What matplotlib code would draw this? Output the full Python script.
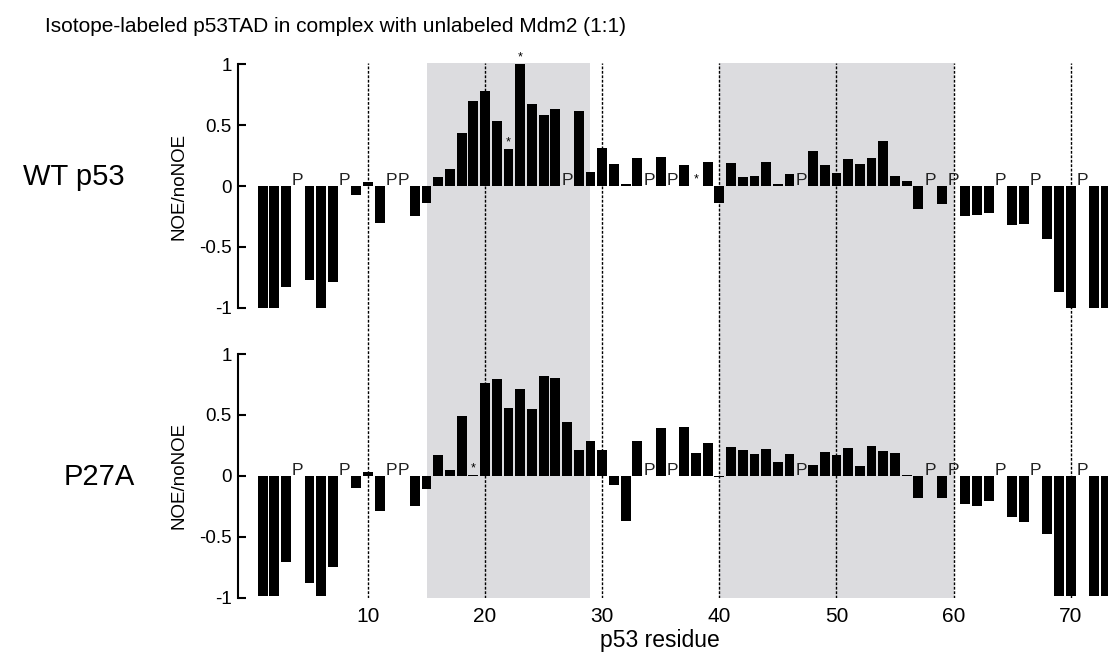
import numpy as np
import matplotlib
matplotlib.use("Agg")
import matplotlib.pyplot as plt

plt.rcParams['font.family'] = ['Liberation Sans', 'DejaVu Sans']

residues = list(range(1, 74))

# NOE/noNOE ratios, None = proline (no amide) or missing
wt_noe = [-1.0, -1.0, -0.83, None, -0.77, -1.0, -0.785, None, -0.07, 0.033,
          -0.30, None, None, -0.25, -0.137, 0.074, 0.142, 0.435, 0.70, 0.78,
          0.53, 0.30, 1.0, 0.673, 0.58, 0.632, None, 0.616, 0.115, 0.31,
          0.18, 0.016, 0.23, None, 0.238, None, 0.172, None, 0.197, -0.137,
          0.19, 0.07, 0.082, 0.197, 0.016, 0.098, None, 0.287, 0.172, 0.107,
          0.22, 0.18, 0.23, 0.37, 0.082, 0.041, -0.186, None, -0.148, None,
          -0.244, -0.235, -0.219, None, -0.317, -0.309, None, -0.432, -0.867, -1.0,
          None, -1.0, -1.0]
p27a_noe = [-0.99, -0.99, -0.71, None, -0.88, -0.99, -0.75, None, -0.096, 0.033,
            -0.285, None, None, -0.244, -0.104, 0.172, 0.049, 0.49, 0.005, 0.763,
            0.796, 0.558, 0.714, 0.55, 0.82, 0.804, 0.443, 0.213, 0.287, 0.213,
            -0.074, -0.367, 0.287, None, 0.394, None, 0.402, 0.189, 0.27, -0.012,
            0.238, 0.213, 0.18, 0.22, 0.112, 0.18, None, 0.09, 0.197, 0.172,
            0.23, 0.082, 0.246, 0.205, 0.189, 0.006, -0.178, None, -0.183, None,
            -0.233, -0.244, -0.21, None, -0.334, -0.378, None, -0.48, -0.985, -0.985,
            None, -0.985, -0.985]

wt_pro = [4, 8, 12, 13, 27, 34, 36, 47, 58, 60, 64, 67, 71]
p27a_pro = [4, 8, 12, 13, 34, 36, 47, 58, 60, 64, 67, 71]
wt_star = [22, 23, 38]
p27a_star = [19]

shaded = [(15, 29), (40, 60)]
guides = [10, 20, 30, 40, 50, 60, 70]
ytick_vals = [-1, -0.5, 0, 0.5, 1]
ytick_labels = ['-1', '-0.5', '0', '0.5', '1']


def draw_panel(ax, vals, pro, stars, ylim):
    v = np.array([np.nan if x is None else x for x in vals], dtype=float)
    for a, b in shaded:
        ax.axvspan(a, b, color='#dcdcdf', lw=0, zorder=0)
    for g in guides:
        ax.axvline(g, color='black', lw=1, ls=(0, (2, 1.2)), zorder=1)
    ax.bar(residues, np.nan_to_num(v), width=0.84, color='black', zorder=2)
    for r in pro:
        ax.text(r, 0.01, 'P', ha='center', va='baseline', fontsize=12.5,
                color='#222222', zorder=3)
    for r in stars:
        top = v[r - 1]
        top = 0 if np.isnan(top) else max(top, 0)
        ax.text(r, top + 0.055, '*', ha='center', va='center', fontsize=9,
                zorder=3)
    ax.set_xlim(-1.10, 73.19)
    ax.set_ylim(*ylim)
    for s in ['top', 'right', 'bottom']:
        ax.spines[s].set_visible(False)
    ax.spines['left'].set_bounds(-1, 1)
    ax.spines['left'].set_linewidth(1.5)
    ax.set_yticks(ytick_vals)
    ax.set_yticklabels(ytick_labels)
    ax.tick_params(axis='y', direction='in', length=6, width=1.5, pad=4.5,
                   labelsize=13.5)
    ax.set_ylabel('NOE/noNOE', fontsize=13.5)


fig = plt.figure(figsize=(11.08, 6.6), dpi=100)
ax1 = fig.add_axes([0.2148, 0.4985, 0.7852, 0.4065])
ax2 = fig.add_axes([0.2148, 0.0944, 0.7852, 0.4041])

draw_panel(ax1, wt_noe, wt_pro, wt_star, (-1.19, 1.012))
draw_panel(ax2, p27a_noe, p27a_pro, p27a_star, (-1.0, 1.189))
ax1.yaxis.set_label_coords(-0.0586, 0.540)
ax2.yaxis.set_label_coords(-0.0586, 0.457)

ax1.set_xticks([])
ax2.set_xticks(guides)
ax2.tick_params(axis='x', length=0, pad=7, labelsize=15)

fig.text(45 / 1108, 1 - 31.7 / 660,
         'Isotope-labeled p53TAD in complex with unlabeled Mdm2 (1:1)',
         fontsize=15, va='baseline', ha='left')
fig.text(125 / 1108, 1 - 185 / 660, 'WT p53', fontsize=21,
         va='baseline', ha='right')
fig.text(135 / 1108, 1 - 485 / 660, 'P27A', fontsize=21,
         va='baseline', ha='right')
fig.text(660 / 1108, 1 - 647 / 660, 'p53 residue', fontsize=16.5,
         va='baseline', ha='center')

fig.savefig('out.png', dpi=100)
